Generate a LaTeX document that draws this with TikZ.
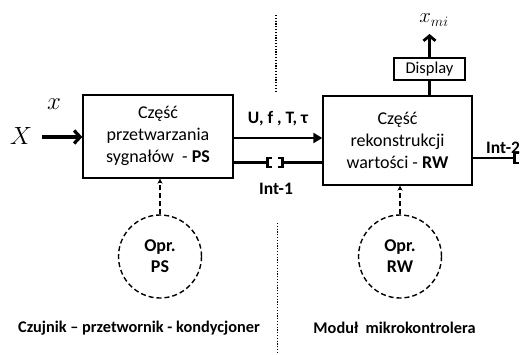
\documentclass[tikz,border=0pt]{standalone}
\usepackage{fontspec}
\setmainfont{Carlito}
\usetikzlibrary{arrows.meta}
\begin{document}
\begin{tikzpicture}[x=1pt,y=-1pt,
  blk/.style={draw,line width=1.4pt,inner sep=0pt},
  thk/.style={line width=2.4pt},
  dsh/.style={line width=1.4pt,dash pattern=on 5pt off 3pt},
  opr/.style={circle,draw,dsh,minimum size=83pt,inner sep=0pt,font=\fontsize{18}{21}\selectfont\bfseries,align=center},
  lbl/.style={font=\fontsize{17.5}{20}\selectfont\bfseries,inner sep=0pt},
  btm/.style={font=\fontsize{16.3}{19}\selectfont\bfseries,inner sep=0pt},
  btxt/.style={font=\fontsize{18}{22}\selectfont,align=center},
  dots/.style={line width=1.2pt,dash pattern=on 1.2pt off 1.6pt}
]
\useasboundingbox (0,0) rectangle (521,354);
% blocks
\node[blk,minimum width=150pt,minimum height=83pt] (ps) at (158,136.5) {};
\node[btxt] (pst) at (158,136) {Część\\przetwarzania\\sygnałów~ - \textbf{PS}};
\node[blk,minimum width=149pt,minimum height=89pt] (rw) at (397.5,140.5) {};
\node[btxt] (rwt) at (397.5,140) {Część\\rekonstrukcji\\wartości - \textbf{RW}};
\node[blk,minimum width=71pt,minimum height=22pt,font=\fontsize{16.5}{18}\selectfont] (disp) at (429.5,69) {Display};
% circles
\node[opr] (oprps) at (160,256.5) {Opr.\\PS};
\node[opr] (oprrw) at (400,256.5) {Opr.\\RW};
% input
\node[font=\fontsize{34}{34}\selectfont,inner sep=0pt] (X) at (21,136) {$X$};
\node[font=\fontsize{25}{25}\selectfont,inner sep=0pt] (xs) at (54,104) {$x$};
\coordinate (xa) at (42,137);
\draw[line width=3.2pt,-{Straight Barb[length=6pt,width=13pt]}] (xa) -- (ps.west |- xa);
% U f T tau
\coordinate (u1) at (233,138);
\draw[thk,-{Triangle[length=9pt,width=10pt]}] (ps.east |- u1) -- (rw.west |- u1);
\node[lbl] (uf) at (278,119) {U, f , T, τ};
% Int-1
\coordinate (i1a) at (267,162.5);
\coordinate (i1b) at (283,162.5);
\draw[thk] (ps.east |- i1a) -- (i1a);
\draw[thk] (i1b) -- (rw.west |- i1b);
\draw[thk] (272,158) -- (267.5,158) -- (267.5,167) -- (272,167);
\draw[thk] (278,158) -- (282.5,158) -- (282.5,167) -- (278,167);
\node[lbl] (int1) at (276,189) {Int-1};
% Int-2
\coordinate (i2a) at (514,158);
\draw[thk] (rw.east |- i2a) -- (i2a);
\draw[thk] (519,153) -- (514.5,153) -- (514.5,163) -- (519,163);
\node[lbl,anchor=base west] (int2) at (486,153) {Int-2};
% display
\draw[thk] (rw.north -| disp) -- (disp.south);
\coordinate (xmia) at (429.5,34);
\draw[line width=2.8pt,-{Straight Barb[length=5pt,width=12pt]}] (disp.north) -- (xmia);
\node[font=\fontsize{22}{22}\selectfont,inner sep=0pt] (xmi) at (434,20) {$x_{mi}$};
% dashed arrows
\draw[dsh,-{Stealth[length=5pt,width=5pt]}] (oprps.north) -- (ps.south -| oprps.north);
\draw[dsh,-{Stealth[length=5pt,width=5pt]}] (oprrw.north) -- (rw.south -| oprrw.north);
% dotted separators
\coordinate (d1) at (276,15);
\coordinate (d2) at (276,92);
\coordinate (d3) at (277.5,223);
\coordinate (d4) at (277.5,354);
\draw[dots] (d1) -- (d2);
\draw[dots] (d3) -- (d4);
% bottom labels
\node[btm] (cz) at (139,328) {Czujnik – przetwornik - kondycjoner};
\node[btm] (mod) at (394.5,328) {Moduł~ mikrokontrolera};
\end{tikzpicture}
\end{document}
